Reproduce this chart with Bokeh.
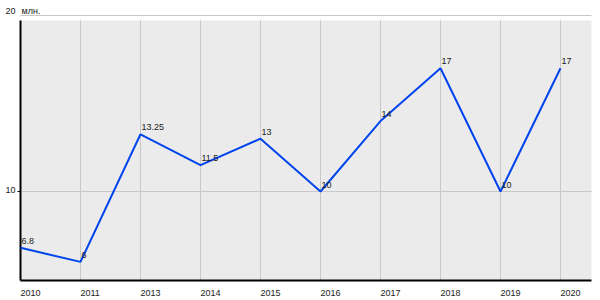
from bokeh.plotting import figure
from bokeh.models import Range1d, ColumnDataSource
from bokeh.core.properties import value
from bokeh.embed import file_html
from bokeh.resources import INLINE

# ---- data ----
years = ["2010", "2011", "2013", "2014", "2015", "2016", "2017", "2018", "2019", "2020"]
values = [6.8, 6, 13.25, 11.5, 13, 10, 14, 17, 10, 17]
value_labels = ["6.8", "6", "13.25", "11.5", "13", "10", "14", "17", "10", "17"]
y_ticks = [10, 20]
y_tick_labels = ["10", "20"]
y_unit = "млн."

FONT = "Liberation Sans"
TEXT_COLOR = "#222222"
GRID_COLOR = "#c8c8c8"
BG_COLOR = "#ebebeb"
LINE_COLOR = "#0044ee"

W, H = 600, 300
PX_X = 60.0      # pixels per category
PX_Y = 17.6      # pixels per unit
ORIGIN_X = 20    # pixel of first category
Y10_PX = 191     # pixel (from top) of value 10

xs = list(range(len(years)))
x_start = -ORIGIN_X / PX_X
x_end = (W - ORIGIN_X) / PX_X
y_top = 10 + Y10_PX / PX_Y
y_bot = 10 - (H - Y10_PX) / PX_Y

area_right = (591 - ORIGIN_X) / PX_X
area_bottom = 10 - (280 - Y10_PX) / PX_Y
area_top = 10 + (Y10_PX - 20) / PX_Y

p = figure(width=W, height=H, output_backend="svg", toolbar_location=None,
           x_range=Range1d(x_start, x_end), y_range=Range1d(y_bot, y_top),
           min_border=0)
p.axis.visible = False
p.grid.visible = False
p.outline_line_color = None
p.background_fill_color = "white"
p.border_fill_color = "white"

# grey plot area
p.quad(left=[0], right=[area_right], bottom=[area_bottom], top=[area_top],
       fill_color=BG_COLOR, line_color=None)

# vertical grid lines
n = len(xs) - 1
p.segment(x0=xs[1:], y0=[area_bottom] * n, x1=xs[1:], y1=[area_top] * n,
          line_color=GRID_COLOR, line_width=1)
# horizontal grid lines
p.segment(x0=[0] * len(y_ticks), y0=y_ticks, x1=[area_right] * len(y_ticks), y1=y_ticks,
          line_color=GRID_COLOR, line_width=1)

# axes lines
p.segment(x0=[0], y0=[area_bottom], x1=[0], y1=[area_top], line_color="black", line_width=2)
p.segment(x0=[0], y0=[area_bottom], x1=[area_right], y1=[area_bottom], line_color="black", line_width=2)
# y tick at 10
p.segment(x0=[-3 / PX_X], y0=[y_ticks[0]], x1=[0], y1=[y_ticks[0]], line_color="black", line_width=1)

# x tick labels
p.text(x=xs, y=[area_bottom] * len(xs), text=years, x_offset=0, y_offset=12,
       text_font=value(FONT), text_font_size="9px", text_color=TEXT_COLOR,
       text_align="left", text_baseline="alphabetic")

# y tick labels
p.text(x=[0], y=[y_ticks[0]], text=[y_tick_labels[0]], x_offset=-5, y_offset=-1.5,
       text_font=value(FONT), text_font_size="9px", text_color=TEXT_COLOR,
       text_align="right", text_baseline="alphabetic")
p.text(x=[0], y=[y_ticks[1]], text=[y_tick_labels[1]], x_offset=-5, y_offset=-5,
       text_font=value(FONT), text_font_size="9px", text_color=TEXT_COLOR,
       text_align="right", text_baseline="alphabetic")
p.text(x=[0], y=[y_ticks[1]], text=[y_unit], x_offset=1, y_offset=-5,
       text_font=value(FONT), text_font_size="9px", text_color=TEXT_COLOR,
       text_align="left", text_baseline="alphabetic")

# data line and value labels
src = ColumnDataSource(dict(x=xs, y=values, lab=value_labels))
p.line("x", "y", source=src, line_color=LINE_COLOR, line_width=2)
p.text("x", "y", text="lab", source=src, x_offset=1, y_offset=-7,
       text_font=value(FONT), text_font_size="9px", text_color=TEXT_COLOR,
       text_align="left", text_baseline="alphabetic")

open("out.html", "w").write(file_html(p, INLINE))
